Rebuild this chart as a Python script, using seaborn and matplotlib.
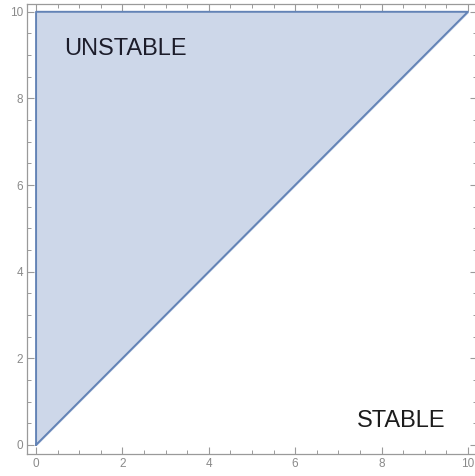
import matplotlib
matplotlib.use("Agg")
import matplotlib.pyplot as plt
import seaborn as sns
import numpy as np
from matplotlib.ticker import MultipleLocator

# Region vertices (unstable region: y > x)
region_x = [0, 0, 10, 0]
region_y = [0, 10, 10, 0]
tick_vals = [0, 2, 4, 6, 8, 10]
labels = ["UNSTABLE", "STABLE"]
label_x = [0.64, 7.44]
label_y = [9.15, 0.55]

sns.set_style("ticks")
plt.rcParams['font.family'] = ['Liberation Sans', 'DejaVu Sans']

fill_col = "#cdd7e9"
edge_col = "#6383b6"
frame_col = "#9a9a9a"

fig = plt.figure(figsize=(4.75, 4.76), dpi=100)
ax = fig.add_axes([27 / 475, 22 / 476, 450 / 475, 450 / 476])

ax.fill(region_x, region_y, color=fill_col, zorder=1)
sns.lineplot(x=region_x, y=region_y, sort=False, estimator=None,
             color=edge_col, linewidth=1.4, ax=ax, zorder=2)

ax.text(label_x[0], label_y[0], labels[0], fontsize=17, color="#1c1c2a",
        va="center", ha="left")
ax.text(label_x[1], label_y[1], labels[1], fontsize=17, color="#1c1c1c",
        va="center", ha="left")

ax.set_xlim(-0.21, 10.21)
ax.set_ylim(-0.21, 10.18)
ax.set_xticks(tick_vals)
ax.set_yticks(tick_vals)
ax.xaxis.set_minor_locator(MultipleLocator(0.5))
ax.yaxis.set_minor_locator(MultipleLocator(0.5))
ax.tick_params(which="both", direction="in", top=True, right=True,
               color=frame_col, labelcolor="#8a8a8a", labelsize=8.5, pad=3)
ax.tick_params(which="major", length=5, width=0.8)
ax.tick_params(which="minor", length=3, width=0.7)
for s in ax.spines.values():
    s.set_color(frame_col)
    s.set_linewidth(0.9)

fig.savefig("out.png", dpi=100)
